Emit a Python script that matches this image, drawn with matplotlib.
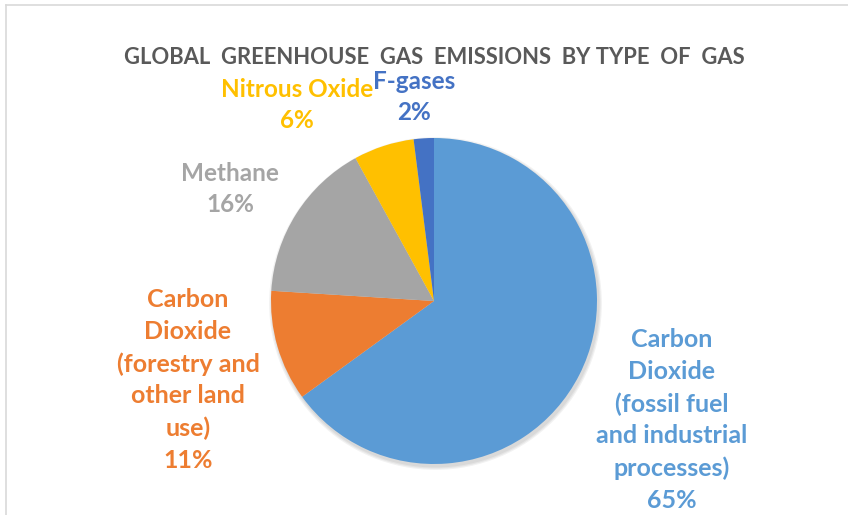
import matplotlib
matplotlib.use('Agg')
import matplotlib.pyplot as plt
from matplotlib.patches import Circle

# data
gases = ['Carbon\nDioxide\n(fossil fuel\nand industrial\nprocesses)',
         'Carbon\nDioxide\n(forestry and\nother land\nuse)',
         'Methane', 'Nitrous Oxide', 'F-gases']
shares = [65, 11, 16, 6, 2]
colors = ['#5B9BD5', '#ED7D31', '#A5A5A5', '#FFC000', '#4472C4']
title = 'GLOBAL  GREENHOUSE  GAS  EMISSIONS  BY TYPE  OF  GAS'

W, H = 848, 515
plt.rcParams['font.family'] = ['Lato', 'DejaVu Sans']

fig = plt.figure(figsize=(W/100, H/100), dpi=100)
fig.set_facecolor('white')
ax = fig.add_axes([0, 0, 1, 1])
ax.set_xlim(0, W)
ax.set_ylim(0, H)
ax.set_aspect('equal')
ax.axis('off')

cx, cy, r = 434, H-301, 163

# soft shadow like excel
for k, a in enumerate([0.05, 0.05, 0.05]):
    ax.add_patch(Circle((cx+1.5, cy-2.5), r+1+k*1.2, color='k', alpha=a, lw=0, zorder=0))

wedges, _ = ax.pie(shares, colors=colors, startangle=90, counterclock=False,
                   center=(cx, cy), radius=r, frame=True,
                   wedgeprops={'linewidth': 0})
ax.set_xlim(0, W)
ax.set_ylim(0, H)
ax.axis('off')

# label block centers (pixel coords, top-down)
lab_pos = [(672, 420), (188, 380), (230, 189), (297, 105), (414, 97)]
for g, s, c, (px, py) in zip(gases, shares, colors, lab_pos):
    fs = 18 if '\n' in g else 17.5
    ax.text(px, H-py, '%s\n%d%%' % (g, s), color=c, fontsize=fs, fontweight='bold',
            ha='center', va='center', linespacing=1.46)

ax.text(434, H-58, title, color='#595959', fontsize=15.8, fontweight='bold',
        ha='center', va='center')

# chart area border (partly visible)
ax.plot([5.5, 5.5], [0, H-4.5], color='#D9D9D9', lw=1.2)
ax.plot([5.5, W], [H-4.5, H-4.5], color='#D9D9D9', lw=1.2)

fig.savefig('out.png', dpi=100, facecolor='white')
